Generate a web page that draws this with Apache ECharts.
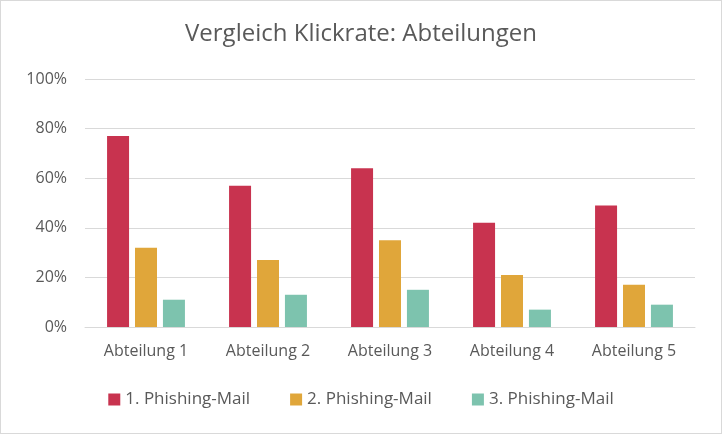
<!DOCTYPE html>
<html>
<head>
<meta charset="utf-8">
<script src="https://cdn.jsdelivr.net/npm/echarts@6/dist/echarts.min.js"></script>
<style>
  html, body { margin: 0; padding: 0; background: #fff; }
  #main { width: 720px; height: 432px; border: 1px solid #d9d9d9; }
</style>
</head>
<body>
<div id="main"></div>
<script>
    // Werte
    var abteilungen = ['Abteilung 1', 'Abteilung 2', 'Abteilung 3', 'Abteilung 4', 'Abteilung 5'];
    var mail1 = [77, 57, 64, 42, 49];
    var mail2 = [32, 27, 35, 21, 17];
    var mail3 = [11, 13, 15, 7, 9];
    var serienNamen = ['1. Phishing-Mail', '2. Phishing-Mail', '3. Phishing-Mail'];

    var myChart = echarts.init(document.getElementById('main'));
    var font = 'Open Sans';
    var option = {
        color: ['#c8334f', '#e0a63a', '#7dc3ae'],
        title: {
            text: 'Vergleich Klickrate: Abteilungen',
            left: 'center',
            top: 16,
            textStyle: { fontFamily: font, fontSize: 24, fontWeight: 'normal', color: '#595959' }
        },
        legend: {
            bottom: 20,
            itemWidth: 12,
            itemHeight: 12,
            itemGap: 40,
            icon: 'rect',
            textStyle: { fontFamily: font, fontSize: 17, color: '#595959' },
            data: serienNamen
        },
        grid: { left: 84, right: 26, top: 78, bottom: 106 },
        xAxis: {
            type: 'category',
            data: abteilungen,
            axisTick: { show: false },
            axisLine: { lineStyle: { color: '#d9d9d9' } },
            axisLabel: { fontFamily: font, fontSize: 16, color: '#595959', margin: 16 }
        },
        yAxis: {
            type: 'value',
            min: 0,
            max: 100,
            interval: 20,
            axisLabel: { formatter: '{value}%', fontFamily: font, fontSize: 16, color: '#595959', margin: 18 },
            splitLine: { lineStyle: { color: '#d9d9d9' } }
        },
        series: [
            { name: serienNamen[0], type: 'bar', data: mail1, barWidth: 22, barGap: '27%' },
            { name: serienNamen[1], type: 'bar', data: mail2, barWidth: 22, barGap: '27%' },
            { name: serienNamen[2], type: 'bar', data: mail3, barWidth: 22, barGap: '27%' }
        ]
    };
    myChart.setOption(option);
</script>
</body>
</html>
